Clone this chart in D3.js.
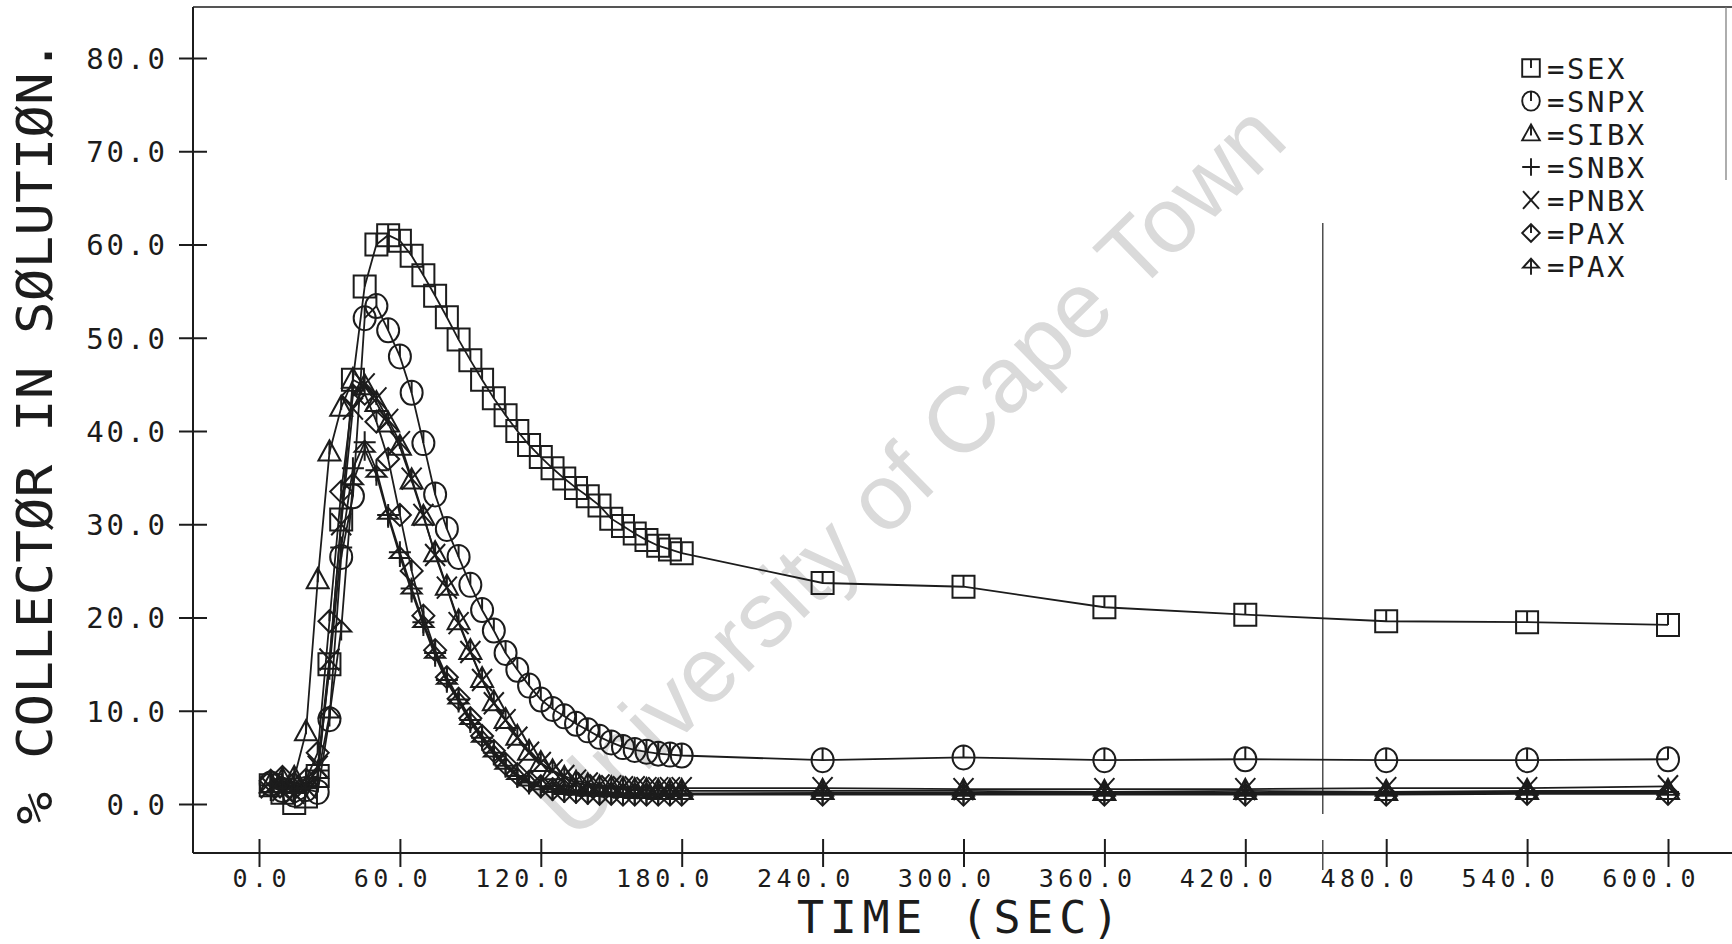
<!DOCTYPE html>
<html>
<head>
<meta charset="utf-8">
<script src="https://cdn.jsdelivr.net/npm/d3@7"></script>
<style>
  html, body { margin: 0; padding: 0; background: #fff; }
  svg { display: block; }
  text { font-family: "DejaVu Sans Mono", "Liberation Mono", monospace; fill: #1c1c1c; }
</style>
</head>
<body>
<svg id="chart" width="1732" height="944"></svg>
<script>
// Sampling times (s): every 5 s up to 180 s, then once a minute.
const times = [5, 10, 15, 20, 25, 30, 35, 40, 45, 50, 55, 60, 65, 70, 75, 80, 85, 90,
  95, 100, 105, 110, 115, 120, 125, 130, 135, 140, 145, 150, 155, 160, 165, 170, 175, 180,
  240, 300, 360, 420, 480, 540, 600];

// % collector remaining in solution for each reagent
const sex = [2.0, 1.2, 0.1, 0.8, 3.0, 15.0, 30.5, 45.5, 55.5, 60.0, 61.0, 60.4, 58.8, 56.7,
  54.5, 52.2, 49.8, 47.6, 45.5, 43.5, 41.7, 40.0, 38.5, 37.2, 36.0, 34.9, 33.9, 33.0, 32.0,
  30.6, 29.8, 29.0, 28.3, 27.7, 27.3, 26.9,
  23.7, 23.3, 21.1, 20.3, 19.6, 19.5, 19.2];
const snpx = [2.2, 1.5, 1.0, 1.6, 1.3, 9.1, 26.5, 33.0, 52.1, 53.4, 50.8, 48.0, 44.1, 38.7,
  33.2, 29.5, 26.5, 23.5, 20.8, 18.6, 16.2, 14.4, 12.7, 11.2, 10.2, 9.4, 8.6, 7.9, 7.2,
  6.6, 6.1, 5.8, 5.6, 5.4, 5.3, 5.2,
  4.7, 5.0, 4.7, 4.8, 4.7, 4.7, 4.8];
const sibx = [2.1, 2.6, 2.8, 7.7, 24.0, 37.7, 42.5, 45.5, 44.8, 43.0, 40.8, 38.3, 34.7, 30.8,
  26.9, 23.3, 19.6, 16.4, 13.4, 10.9, 9.0, 7.2, 5.6, 4.4, 3.5, 2.8, 2.3, 2.0, 1.8,
  1.7, 1.6, 1.5, 1.5, 1.4, 1.4, 1.4,
  1.4, 1.4, 1.3, 1.4, 1.3, 1.4, 1.4];
const snbx = [2.0, 2.2, 1.6, 2.2, 3.6, 14.5, 27.5, 36.0, 38.8, 35.8, 31.0, 27.0, 23.1, 19.5,
  16.2, 13.3, 11.2, 9.0, 7.1, 5.5, 4.1, 3.0, 2.3, 1.9, 1.6, 1.4, 1.3, 1.2, 1.2,
  1.2, 1.1, 1.1, 1.1, 1.1, 1.1, 1.1,
  1.2, 1.2, 1.2, 1.2, 1.2, 1.3, 1.3];
const pnbx = [1.8, 1.5, 1.2, 1.8, 4.0, 15.5, 30.0, 42.4, 45.0, 43.5, 41.2, 38.8, 34.9, 31.0,
  26.7, 23.2, 19.4, 16.3, 13.3, 10.8, 9.0, 7.1, 5.5, 4.4, 3.6, 3.0, 2.5, 2.2, 2.0,
  1.9, 1.8, 1.8, 1.7, 1.7, 1.7, 1.7,
  1.7, 1.6, 1.6, 1.6, 1.7, 1.7, 1.9];
const paxA = [2.5, 2.9, 2.2, 2.6, 5.5, 19.6, 33.5, 43.8, 44.0, 41.0, 37.0, 31.0, 25.0, 20.2,
  16.5, 13.6, 11.3, 9.2, 7.3, 5.7, 4.3, 3.2, 2.4, 1.9, 1.6, 1.4, 1.3, 1.2, 1.1,
  1.1, 1.0, 1.0, 1.0, 1.0, 1.0, 1.0,
  1.0, 1.0, 1.0, 1.0, 1.0, 1.1, 1.1];
const paxB = [1.5, 1.9, 1.4, 1.9, 3.0, 9.5, 18.7, 34.5, 38.0, 35.3, 30.8, 26.6, 22.8, 19.2,
  15.9, 13.1, 11.0, 8.8, 6.9, 5.3, 4.0, 2.9, 2.2, 1.8, 1.5, 1.3, 1.2, 1.1, 1.1,
  1.1, 1.1, 1.1, 1.1, 1.1, 1.1, 1.1,
  1.1, 1.1, 1.1, 1.1, 1.1, 1.2, 1.2];

const seriesNames = ["SEX", "SNPX", "SIBX", "SNBX", "PNBX", "PAX", "PAX"];
const seriesSymbols = ["square", "circle", "triangle", "plus", "cross", "diamond", "arrow"];
const seriesValues = [sex, snpx, sibx, snbx, pnbx, paxA, paxB];

const yTicks = [0, 10, 20, 30, 40, 50, 60, 70, 80];
const xTicks = [0, 60, 120, 180, 240, 300, 360, 420, 480, 540, 600];
const xTitle = "TIME (SEC)";
const yTitle = "% COLLECTØR IN SØLUTIØN.";
const watermark = "University of Cape Town";
const guideTime = 453; // stray vertical pen line on the sheet

// Plotter pen symbols, centred on the point
const symbolPaths = {
  square:   "M-11,-11H11V11H-11Z M0,-11V0",
  circle:   "M-11,0A11,12 0 1,0 11,0A11,12 0 1,0 -11,0Z M0,-12V0",
  triangle: "M-11,8L11,8L0,-12Z M0,-12V2",
  plus:     "M-11,0H11 M0,-11V11",
  cross:    "M-10,-11L10,11 M-10,11L10,-11",
  diamond:  "M0,-11L11,0L0,11L-11,0Z M0,-11V0",
  arrow:    "M-10,2L0,-9L10,2Z M0,-9V11"
};

const ink = "#1c1c1c";
const svg = d3.select("#chart");

const x = d3.scaleLinear().domain([0, 600]).range([259, 1668]);
const y = d3.scaleLinear().domain([0, 80]).range([804, 58]);

const frameLeft = 193, frameBottom = 853, frameTop = 7, frameRight = 1732;

// Watermark (under everything)
svg.append("text")
  .attr("transform", "translate(910,470) rotate(-44.3)")
  .attr("text-anchor", "middle")
  .attr("dominant-baseline", "central")
  .style("font-family", "'Liberation Sans', Arial, sans-serif")
  .style("fill", "#dadada")
  .attr("font-size", 93)
  .text(watermark);

// Frame
const frame = svg.append("g").attr("stroke", ink).attr("stroke-width", 2).attr("fill", "none");
frame.append("line").attr("x1", frameLeft).attr("x2", frameLeft).attr("y1", frameTop).attr("y2", frameBottom);
frame.append("line").attr("x1", frameLeft).attr("x2", frameRight).attr("y1", frameBottom).attr("y2", frameBottom);
frame.append("line").attr("x1", frameLeft).attr("x2", frameRight).attr("y1", frameTop).attr("y2", frameTop).attr("stroke-width", 1.5);
frame.append("line").attr("x1", 1726).attr("x2", 1726).attr("y1", frameTop).attr("y2", 180).attr("stroke-width", 1.2).attr("stroke", "#777");

// Stray vertical line
const gx = x(guideTime);
svg.append("line").attr("x1", gx).attr("x2", gx).attr("y1", 223).attr("y2", 814)
  .attr("stroke", "#333").attr("stroke-width", 1.3);
svg.append("line").attr("x1", gx).attr("x2", gx).attr("y1", 840).attr("y2", 870)
  .attr("stroke", "#333").attr("stroke-width", 1.3);

// Y axis
const yAxis = d3.axisLeft(y).tickValues(yTicks).tickFormat(d3.format(".1f")).tickSizeOuter(0);
const gY = svg.append("g").attr("transform", `translate(${frameLeft},0)`).call(yAxis);
gY.attr("font-family", null).attr("font-size", null);
gY.select(".domain").remove();
gY.selectAll(".tick line").attr("x1", -14).attr("x2", 14).attr("stroke", ink).attr("stroke-width", 2);
gY.selectAll(".tick text").attr("x", -25).attr("dy", "0.36em")
  .attr("font-size", 29).attr("letter-spacing", 3).style("fill", ink);

// X axis: the plotter centres the decimal point on each tick
const xFont = 25, xSpacing = 4.5;
const xAdvance = xFont * 0.602 + xSpacing;
const xAxis = d3.axisBottom(x).tickValues(xTicks).tickFormat(d3.format(".1f")).tickSizeOuter(0);
const gX = svg.append("g").attr("transform", `translate(0,${frameBottom})`).call(xAxis);
gX.attr("font-family", null).attr("font-size", null);
gX.select(".domain").remove();
gX.selectAll(".tick line").attr("y1", -14).attr("y2", 14).attr("stroke", ink).attr("stroke-width", 2);
gX.selectAll(".tick text")
  .attr("y", 34).attr("dy", 0)
  .attr("text-anchor", "start")
  .attr("x", function () {
    const s = this.textContent;
    return -(s.indexOf(".") + 0.5) * xAdvance + xSpacing / 2;
  })
  .attr("font-size", xFont).attr("letter-spacing", xSpacing).style("fill", ink);

// Axis titles
svg.append("text")
  .attr("x", 958).attr("y", 933)
  .attr("text-anchor", "middle")
  .attr("font-size", 45)
  .attr("textLength", 322).attr("lengthAdjust", "spacing")
  .text(xTitle);

svg.append("text")
  .attr("transform", "translate(52,432) rotate(-90)")
  .attr("text-anchor", "middle")
  .attr("font-size", 49)
  .attr("textLength", 785).attr("lengthAdjust", "spacingAndGlyphs")
  .text(yTitle);

// Series
const line = d3.line().x((d, i) => x(times[i])).y(d => y(d));
const plot = svg.append("g");
seriesValues.forEach((vals, k) => {
  const g = plot.append("g");
  g.append("path").attr("d", line(vals))
    .attr("fill", "none").attr("stroke", ink).attr("stroke-width", 1.8);
  g.selectAll("path.mk").data(vals).join("path").attr("class", "mk")
    .attr("transform", (d, i) => `translate(${x(times[i])},${y(d)})`)
    .attr("d", symbolPaths[seriesSymbols[k]])
    .attr("fill", "none").attr("stroke", ink).attr("stroke-width", 2);
});

// Legend
const legend = svg.append("g");
seriesNames.forEach((name, k) => {
  const ry = 68 + 33 * k;
  legend.append("path")
    .attr("transform", `translate(1531,${ry}) scale(0.8)`)
    .attr("d", symbolPaths[seriesSymbols[k]])
    .attr("fill", "none").attr("stroke", ink).attr("stroke-width", 2.4);
  legend.append("text")
    .attr("x", 1547).attr("y", ry + 11)
    .attr("font-size", 29).attr("letter-spacing", 2.5)
    .text("=" + name);
});
</script>
</body>
</html>
